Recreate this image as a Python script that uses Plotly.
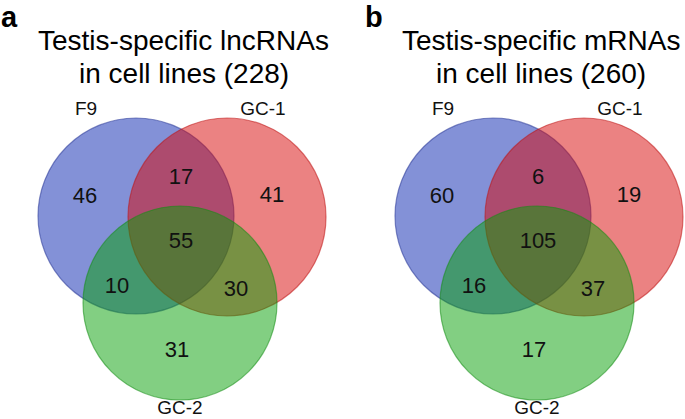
import plotly.graph_objects as go

# ---------------- data ----------------
set_names = ["F9", "GC-1", "GC-2"]
panel_letters = ["a", "b"]
panel_titles = [
    ["Testis-specific lncRNAs", "in cell lines (228)"],
    ["Testis-specific mRNAs", "in cell lines (260)"],
]
# region order: F9 only, GC-1 only, GC-2 only, F9&GC-1, F9&GC-2, GC-1&GC-2, all three
region_names = ["F9", "GC-1", "GC-2", "F9&GC-1", "F9&GC-2", "GC-1&GC-2", "F9&GC-1&GC-2"]
lncrna_counts = [46, 41, 31, 17, 10, 30, 55]
mrna_counts = [60, 19, 17, 6, 16, 37, 105]
panel_counts = [lncrna_counts, mrna_counts]

# ---------------- layout / geometry (pixel space) ----------------
W, H = 685, 419
panel_dx = [0, 357]
circle_geom = [(136, 216, 98), (227, 217, 99), (180, 303, 97)]  # cx, cy, r for F9, GC-1, GC-2
circle_fill = ["rgba(8,35,175,0.5)", "rgba(215,5,5,0.5)", "rgba(5,160,5,0.5)"]
circle_line = ["rgba(40,55,150,0.55)", "rgba(190,20,20,0.55)", "rgba(20,140,20,0.55)"]
region_pos = [(85, 197), (272, 196), (177, 351), (181, 178), (117, 287), (236, 290), (181, 242)]
label_pos = [(86, 110), (263, 110), (180, 409)]
title_x = 183.5
title_y = [40, 73]
letter_pos = [(9, 0), (374, 0)]

FONT = "Liberation Sans, Arial, Helvetica, sans-serif"

fig = go.Figure()
shapes = []
annotations = []

for p in range(2):
    dx = panel_dx[p]
    for i, (cx, cy, r) in enumerate(circle_geom):
        shapes.append(dict(
            type="circle", xref="x", yref="y",
            x0=cx + dx - r, x1=cx + dx + r, y0=cy - r, y1=cy + r,
            fillcolor=circle_fill[i], line=dict(color=circle_line[i], width=1.2),
            layer="below",
        ))
    # region counts
    fig.add_trace(go.Scatter(
        x=[px + dx for px, _ in region_pos],
        y=[py for _, py in region_pos],
        text=[str(v) for v in panel_counts[p]],
        mode="text",
        textfont=dict(family=FONT, size=22, color="#111111"),
        textposition="middle center", cliponaxis=False,
        hoverinfo="skip", showlegend=False,
    ))
    # set labels
    fig.add_trace(go.Scatter(
        x=[px + dx for px, _ in label_pos],
        y=[py for _, py in label_pos],
        text=set_names,
        mode="text",
        textfont=dict(family=FONT, size=19, color="#111111"),
        textposition="middle center", cliponaxis=False,
        hoverinfo="skip", showlegend=False,
    ))
    for li, line in enumerate(panel_titles[p]):
        annotations.append(dict(
            x=title_x + dx, y=title_y[li], xref="x", yref="y",
            text=line, showarrow=False, xanchor="center", yanchor="middle",
            font=dict(family=FONT, size=28, color="#000000"),
        ))
    lx, ly = letter_pos[p]
    annotations.append(dict(
        x=lx, y=ly, xref="x", yref="y",
        text="<b>%s</b>" % panel_letters[p], showarrow=False,
        xanchor="center", yanchor="top", borderpad=0,
        font=dict(family=FONT, size=29, color="#000000"),
    ))

fig.update_layout(
    width=W, height=H,
    margin=dict(l=0, r=0, t=0, b=0),
    paper_bgcolor="white", plot_bgcolor="white",
    xaxis=dict(range=[0, W], visible=False, fixedrange=True),
    yaxis=dict(range=[H, 0], visible=False, fixedrange=True),
    shapes=shapes, annotations=annotations,
)

fig.write_html(
    "out.html",
    config={"displayModeBar": False},
    post_script="document.body.style.margin='0';document.body.style.overflow='hidden';",
)
